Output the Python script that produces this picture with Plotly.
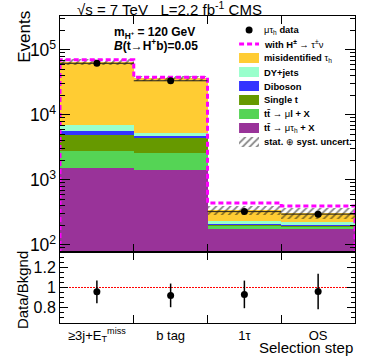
import numpy as np
import plotly.graph_objects as go

# selection steps (x categories)
steps = ["≥3j+E<sub>T</sub><sup>miss</sup>", "b tag", "1τ", "OS"]

# background yields per step, stacked bottom -> top
tt_mutau = [1530, 1425, 176, 176]
tt_mul = [1260, 1175, 20, 15]
single_t = [2130, 1830, 12, 10]
diboson = [760, 320, 2, 2]
dy_jets = [1340, 540, 24, 23]
misid_tau = [57980, 31210, 111, 84]

# relative stat+syst uncertainty on the total background
unc_frac = [0.10, 0.10, 0.15, 0.18]

# total expectation with H+ -> tau nu signal, and observed data
signal_total = [71000, 38000, 443, 398]
data = [62400, 33600, 326, 298]

# data / background ratio panel
ratio = [0.956, 0.92, 0.93, 0.96]
ratio_err = [0.115, 0.12, 0.14, 0.18]

stack = [
    ("<b>tt̄</b> → μτ<sub>h</sub> <b>+ X</b>", tt_mutau, "#993399"),
    ("<b>tt̄</b> → μ<b>l + X</b>", tt_mul, "#55D455"),
    ("<b>Single t</b>", single_t, "#669900"),
    ("<b>Diboson</b>", diboson, "#3333FF"),
    ("<b>DY+jets</b>", dy_jets, "#99FFCC"),
    ("<b>misidentified</b> τ<sub>h</sub>", misid_tau, "#FFCC33"),
]

FONT = "Liberation Sans, Arial, sans-serif"
MAGENTA = "#FF00FF"

edges = np.arange(len(steps) + 1)
centers = edges[:-1] + 0.5
bkg_total = np.sum([s[1] for s in stack], axis=0)
unc = np.array(unc_frac)

fig = go.Figure()

for name, vals, color in stack:
    fig.add_trace(go.Bar(
        x=centers, y=vals, width=1, marker=dict(color=color, line_width=0),
        xaxis="x", yaxis="y",
    ))

# uncertainty band (drawn with explicit base -> overlay)
hatch = dict(shape="/", fgcolor="#111", bgcolor="rgba(0,0,0,0)", size=5, solidity=0.35)
fig.add_trace(go.Bar(
    x=centers, y=2 * unc * bkg_total, base=bkg_total * (1 - unc), width=1,
    marker=dict(color="rgba(0,0,0,0)", line_width=0, pattern=hatch),
    xaxis="x", yaxis="y",
))

# signal + background as a step line
floor = 10
sx = np.r_[edges[0], edges[:-1], edges[-1], edges[-1]]
sy = [floor] + signal_total + [signal_total[-1], floor]
fig.add_trace(go.Scatter(
    x=sx, y=sy, mode="lines", line=dict(color=MAGENTA, width=3, dash="5px,3px", shape="hv"),
    xaxis="x", yaxis="y",
))

fig.add_trace(go.Scatter(
    x=centers, y=data, mode="markers", marker=dict(color="black", size=7),
    error_x=dict(type="constant", value=0.5, width=0, thickness=1, color="#222"),
    xaxis="x", yaxis="y",
))

# ratio panel
fig.add_trace(go.Scatter(
    x=centers, y=ratio, mode="markers", marker=dict(color="black", size=7),
    error_y=dict(type="data", array=ratio_err, width=0, thickness=1.5, color="black"),
    xaxis="x2", yaxis="y2",
))
fig.add_shape(type="line", xref="x2 domain", yref="y2", x0=0, x1=1, y0=1, y1=1,
              line=dict(color="red", width=1, dash="2px,1px"), layer="below")

# legend drawn in its own hidden axes
legend_rows = ["μτ<sub>h</sub> <b>data</b>", "<b>with H<sup>±</sup></b> → τ<sup>±</sup>ν"] + \
    [s[0] for s in reversed(stack)] + ["<b>stat.</b> ⊕ <b>syst. uncert.</b>"]
fig.add_trace(go.Scatter(x=[0.5], y=[0], mode="markers", marker=dict(color="black", size=7),
                         xaxis="x3", yaxis="y3"))
fig.add_trace(go.Scatter(x=[0, 1], y=[1, 1], mode="lines",
                         line=dict(color=MAGENTA, width=3, dash="5px,3px"),
                         xaxis="x3", yaxis="y3"))
for i, (name, vals, color) in enumerate(reversed(stack)):
    fig.add_trace(go.Bar(x=[1], y=[i + 2], base=[0], orientation="h", width=0.7,
                         marker=dict(color=color, line_width=0), xaxis="x3", yaxis="y3"))
fig.add_trace(go.Bar(
    x=[1], y=[len(legend_rows) - 1], base=[0], orientation="h", width=0.7,
    marker=dict(color="rgba(0,0,0,0)", line_width=0, pattern=hatch),
    xaxis="x3", yaxis="y3",
))
for i, label in enumerate(legend_rows):
    fig.add_annotation(text=label, x=0.685, xref="paper", y=i, yref="y3",
                       xanchor="left", yanchor="middle", showarrow=False,
                       font=dict(size=9.4, family=FONT))

split = 0.2313
axis_common = dict(showline=True, linecolor="black", linewidth=1, showgrid=False,
                   zeroline=False, mirror="allticks", tickcolor="black")

fig.update_layout(
    width=374, height=360,
    margin=dict(l=60, r=19, t=16, b=37),
    barmode="stack", bargap=0, showlegend=False,
    plot_bgcolor="white", paper_bgcolor="white",
    font=dict(family=FONT, color="black"),
    xaxis=dict(domain=[0, 1], anchor="y", range=[0, 4], tickvals=edges[1:-1],
               ticks="inside", ticklen=8, showticklabels=False, **axis_common),
    yaxis=dict(domain=[split, 1], anchor="x", type="log", range=[1.892, 5.523],
               dtick=1, exponentformat="power", ticks="inside", ticklen=10,
               minor=dict(ticks="inside", ticklen=5, dtick="D1", tickcolor="black"),
               tickfont=dict(size=14), **axis_common),
    xaxis2=dict(domain=[0, 1], anchor="y2", range=[0, 4], tickvals=centers, ticktext=steps,
                ticks="inside", ticklen=0, tickfont=dict(size=13),
                minor=dict(ticks="inside", ticklen=8, tickvals=edges[1:-1], tickcolor="black"),
                **axis_common),
    yaxis2=dict(domain=[0, split], anchor="x2", range=[0.64, 1.36], tick0=0, dtick=0.2,
                ticks="inside", ticklen=8, tickfont=dict(size=16),
                minor=dict(ticks="inside", ticklen=4, dtick=0.05, tickcolor="black"),
                **axis_common),
    xaxis3=dict(domain=[0.607, 0.675], anchor="y3", range=[0, 1], visible=False),
    yaxis3=dict(domain=[0.567, 0.977], anchor="x3", range=[8.5, -0.5], visible=False),
)

fig.add_annotation(text="√s = 7 TeV\u00a0\u00a0\u00a0L=2.2 fb<sup>-1</sup> CMS",
                   x=0.051, xref="paper", y=1.026, yref="paper", xanchor="left",
                   yanchor="middle", showarrow=False, font=dict(size=15))
fig.add_annotation(text="<b>m<sub>H<sup>+</sup></sub> = 120 GeV</b>", x=0.176, xref="paper",
                   y=0.945, yref="paper", xanchor="left", yanchor="middle",
                   showarrow=False, font=dict(size=12))
fig.add_annotation(text="<b><i>B</i>(t→H<sup>+</sup>b)=0.05</b>", x=0.176, xref="paper",
                   y=0.906, yref="paper", xanchor="left", yanchor="middle",
                   showarrow=False, font=dict(size=12))
fig.add_annotation(text="Events", textangle=-90, x=-0.119, xref="paper", y=0.932,
                   yref="paper", xanchor="center", yanchor="middle", showarrow=False,
                   font=dict(size=17))
fig.add_annotation(text="Data/Bkgnd", textangle=-90, x=-0.129, xref="paper", y=0.107,
                   yref="paper", xanchor="center", yanchor="middle", showarrow=False,
                   font=dict(size=15))
fig.add_annotation(text="Selection step", x=1, xref="paper", y=-0.081, yref="paper",
                   xanchor="right", yanchor="middle", showarrow=False, font=dict(size=15))

# drop the browser's default 8px body margin so the figure sits at the page corner
fig.write_html("out.html", config={"displayModeBar": False},
               post_script="document.body.style.margin = '0';")
